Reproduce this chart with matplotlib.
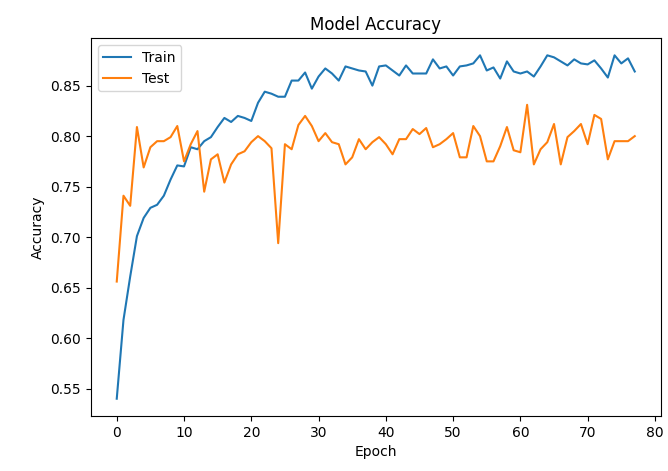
import matplotlib
matplotlib.use("Agg")
import matplotlib.pyplot as plt

# Genauigkeit pro Epoche
train_acc = [0.540, 0.618, 0.661, 0.701, 0.719, 0.729, 0.732, 0.741, 0.757, 0.771,
             0.770, 0.789, 0.787, 0.795, 0.799, 0.809, 0.818, 0.814, 0.820, 0.818,
             0.815, 0.833, 0.844, 0.842, 0.839, 0.839, 0.855, 0.855, 0.863, 0.847,
             0.859, 0.867, 0.862, 0.855, 0.869, 0.867, 0.865, 0.864, 0.850, 0.869,
             0.870, 0.865, 0.860, 0.870, 0.862, 0.862, 0.862, 0.876, 0.867, 0.869,
             0.860, 0.869, 0.870, 0.872, 0.880, 0.865, 0.868, 0.857, 0.874, 0.864,
             0.862, 0.864, 0.859, 0.869, 0.880, 0.878, 0.874, 0.870, 0.876, 0.872,
             0.871, 0.875, 0.867, 0.858, 0.880, 0.872, 0.877, 0.864]
test_acc = [0.656, 0.741, 0.731, 0.809, 0.769, 0.789, 0.795, 0.795, 0.799, 0.810,
            0.775, 0.792, 0.805, 0.745, 0.777, 0.782, 0.754, 0.772, 0.782, 0.785,
            0.794, 0.800, 0.795, 0.788, 0.694, 0.792, 0.787, 0.811, 0.820, 0.810,
            0.795, 0.803, 0.794, 0.792, 0.772, 0.779, 0.797, 0.787, 0.794, 0.799,
            0.792, 0.782, 0.797, 0.797, 0.807, 0.802, 0.808, 0.789, 0.792, 0.797,
            0.803, 0.779, 0.779, 0.810, 0.800, 0.775, 0.775, 0.790, 0.809, 0.786,
            0.784, 0.831, 0.772, 0.787, 0.794, 0.812, 0.772, 0.799, 0.805, 0.812,
            0.792, 0.821, 0.817, 0.777, 0.795, 0.795, 0.795, 0.800]
epochs = list(range(len(train_acc)))

fig = plt.figure(figsize=(6.68, 4.71), dpi=100)
ax = fig.add_axes([0.136, 0.117, 0.853, 0.802])

ax.plot(epochs, train_acc, label="Train")
ax.plot(epochs, test_acc, label="Test")
ax.set_title("Model Accuracy")
ax.set_xlabel("Epoch")
ax.set_ylabel("Accuracy")
ax.legend(loc="upper left")

fig.savefig("out.png", dpi=100)
